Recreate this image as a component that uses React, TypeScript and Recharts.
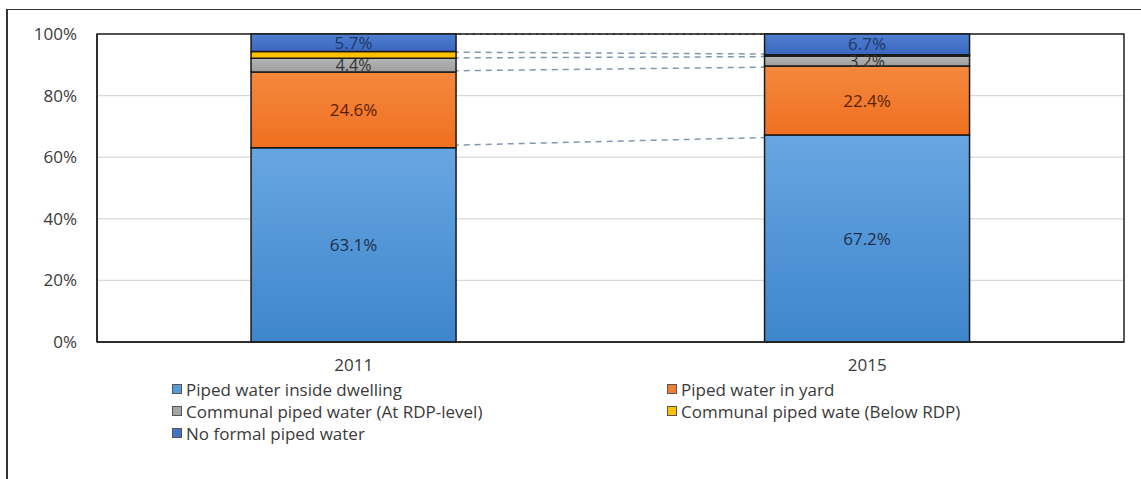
import React from 'react';
import { ComposedChart, Bar, Line, XAxis, YAxis, CartesianGrid, Legend, LabelList, ReferenceArea } from 'recharts';

const years = ['2011', '2015'];
const insideDwelling = [63.1, 67.2];
const inYard = [24.6, 22.4];
const communalRdp = [4.4, 3.2];
const communalBelow = [2.2, 0.5];
const noFormal = [5.7, 6.7];
const yTicks = [0, 20, 40, 60, 80, 100];

const seriesNames = [
  'Piped water inside dwelling',
  'Piped water in yard',
  'Communal piped water (At RDP-level)',
  'Communal piped wate (Below RDP)',
  'No formal piped water',
];
const seriesColors = ['#5B9BD5', '#ED7D31', '#A5A5A5', '#FFC000', '#4472C4'];

const data = years.map((year, i) => {
  const c1 = insideDwelling[i];
  const c2 = c1 + inYard[i];
  const c3 = c2 + communalRdp[i];
  const c4 = c3 + communalBelow[i];
  const c5 = c4 + noFormal[i];
  return {
    year,
    inside: insideDwelling[i],
    yard: inYard[i],
    rdp: communalRdp[i],
    below: communalBelow[i],
    none: noFormal[i],
    c1,
    c2,
    c3,
    c4,
    c5,
  };
});

const FONT = '"Open Sans", Lato, sans-serif';
const FS = 17;
const fmt = (v: any) => `${Number(v).toFixed(1)}%`;

const renderLegend = (props: any) => {
  const payload = (props.payload || [])
    .filter((p: any) => seriesNames.includes(p.value))
    .sort((a: any, b: any) => seriesNames.indexOf(a.value) - seriesNames.indexOf(b.value));
  return (
    <div
      style={{
        display: 'grid',
        gridTemplateColumns: '495px 495px',
        gridAutoRows: '22px',
        paddingLeft: 164,
        fontFamily: FONT,
        fontSize: FS,
        color: '#3a3a3a',
        height: 66,
        boxSizing: 'border-box',
      }}
    >
      {payload.map((p: any) => (
        <div key={p.value} style={{ display: 'flex', alignItems: 'center', whiteSpace: 'nowrap' }}>
          <span
            style={{
              display: 'inline-block',
              width: 8,
              height: 8,
              background: seriesColors[seriesNames.indexOf(p.value)],
              border: '1px solid #555',
              marginRight: 4,
            }}
          />
          <span>{p.value}</span>
        </div>
      ))}
    </div>
  );
};

const lineProps = {
  strokeWidth: 1.5,
  dot: false,
  activeDot: false,
  legendType: 'none' as const,
  isAnimationActive: false,
  zIndex: 100,
};

export default function App() {
  return (
    <div style={{ position: 'relative', width: 1125, height: 471 }}>
      <style>{'html{overflow:hidden}'}</style>
      <ComposedChart
        width={1125}
        height={471}
        data={data}
        margin={{ top: 26, right: 9, left: 0, bottom: 35 }}
        barCategoryGap="30%"
        style={{ position: 'absolute', left: 0, top: 0 }}
      >
        <defs>
          <linearGradient id="gInside" x1="0" y1="0" x2="0" y2="1">
            <stop offset="0%" stopColor="#68A6E2" />
            <stop offset="100%" stopColor="#3E86CC" />
          </linearGradient>
          <linearGradient id="gYard" x1="0" y1="0" x2="0" y2="1">
            <stop offset="0%" stopColor="#F4883D" />
            <stop offset="100%" stopColor="#F07020" />
          </linearGradient>
          <linearGradient id="gRdp" x1="0" y1="0" x2="0" y2="1">
            <stop offset="0%" stopColor="#B5B5B5" />
            <stop offset="100%" stopColor="#9E9E9E" />
          </linearGradient>
          <linearGradient id="gNone" x1="0" y1="0" x2="0" y2="1">
            <stop offset="0%" stopColor="#4F7FD0" />
            <stop offset="100%" stopColor="#3A66C0" />
          </linearGradient>
        </defs>
        <CartesianGrid vertical={false} stroke="#d9d9d9" strokeWidth={1.2} />
        <XAxis
          dataKey="year"
          axisLine={{ stroke: '#222', strokeWidth: 1.5 }}
          tickLine={false}
          tickSize={0}
          tickMargin={17}
          height={36}
          tick={{ fill: '#3a3a3a', fontSize: FS, fontFamily: FONT }}
        />
        <YAxis
          domain={[0, 100]}
          ticks={yTicks}
          tickFormatter={(v: number) => `${v}%`}
          axisLine={{ stroke: '#222', strokeWidth: 1.5 }}
          tickLine={false}
          tickSize={0}
          tickMargin={20}
          width={89}
          tick={{ fill: '#3a3a3a', fontSize: FS, fontFamily: FONT }}
        />
        <Line dataKey="c1" stroke="#8497B0" strokeDasharray="6 5" {...lineProps} />
        <Line dataKey="c2" stroke="#8497B0" strokeDasharray="6 5" {...lineProps} />
        <Line dataKey="c3" stroke="#8497B0" strokeDasharray="6 5" {...lineProps} />
        <Line dataKey="c4" stroke="#8497B0" strokeDasharray="6 5" {...lineProps} />
        <Line dataKey="c5" stroke="#333" strokeDasharray="2 5" {...lineProps} />
        <Bar dataKey="inside" name={seriesNames[0]} stackId="a" fill="url(#gInside)" stroke="#1a1a1a" strokeWidth={1.5} isAnimationActive={false}>
          <LabelList dataKey="inside" position="center" formatter={fmt} fill="#1F2D4A" fontSize={FS} fontFamily={FONT} />
        </Bar>
        <Bar dataKey="yard" name={seriesNames[1]} stackId="a" fill="url(#gYard)" stroke="#1a1a1a" strokeWidth={1.5} isAnimationActive={false}>
          <LabelList dataKey="yard" position="center" formatter={fmt} fill="#5A1E08" fontSize={FS} fontFamily={FONT} />
        </Bar>
        <Bar dataKey="rdp" name={seriesNames[2]} stackId="a" fill="url(#gRdp)" stroke="#1a1a1a" strokeWidth={1.5} isAnimationActive={false}>
          <LabelList dataKey="rdp" position="center" formatter={fmt} fill="#333" fontSize={FS - 1} fontFamily={FONT} />
        </Bar>
        <Bar dataKey="below" name={seriesNames[3]} stackId="a" fill="#FFC000" stroke="#1a1a1a" strokeWidth={1.5} isAnimationActive={false} />
        <Bar dataKey="none" name={seriesNames[4]} stackId="a" fill="url(#gNone)" stroke="#1a1a1a" strokeWidth={1.5} isAnimationActive={false}>
          <LabelList dataKey="none" position="center" formatter={fmt} fill="#1F3864" fontSize={FS} fontFamily={FONT} />
        </Bar>
        <ReferenceArea y1={0} y2={100} fill="none" fillOpacity={0} stroke="#222" strokeWidth={1.5} ifOverflow="visible" />
        <Legend verticalAlign="bottom" align="left" content={renderLegend} />
      </ComposedChart>
      <div
        style={{
          position: 'fixed',
          left: 6,
          top: 9,
          width: 1135,
          height: 480,
          borderLeft: '2px solid #333',
          borderTop: '1.5px solid #333',
          boxSizing: 'border-box',
          pointerEvents: 'none',
        }}
      />
    </div>
  );
}
